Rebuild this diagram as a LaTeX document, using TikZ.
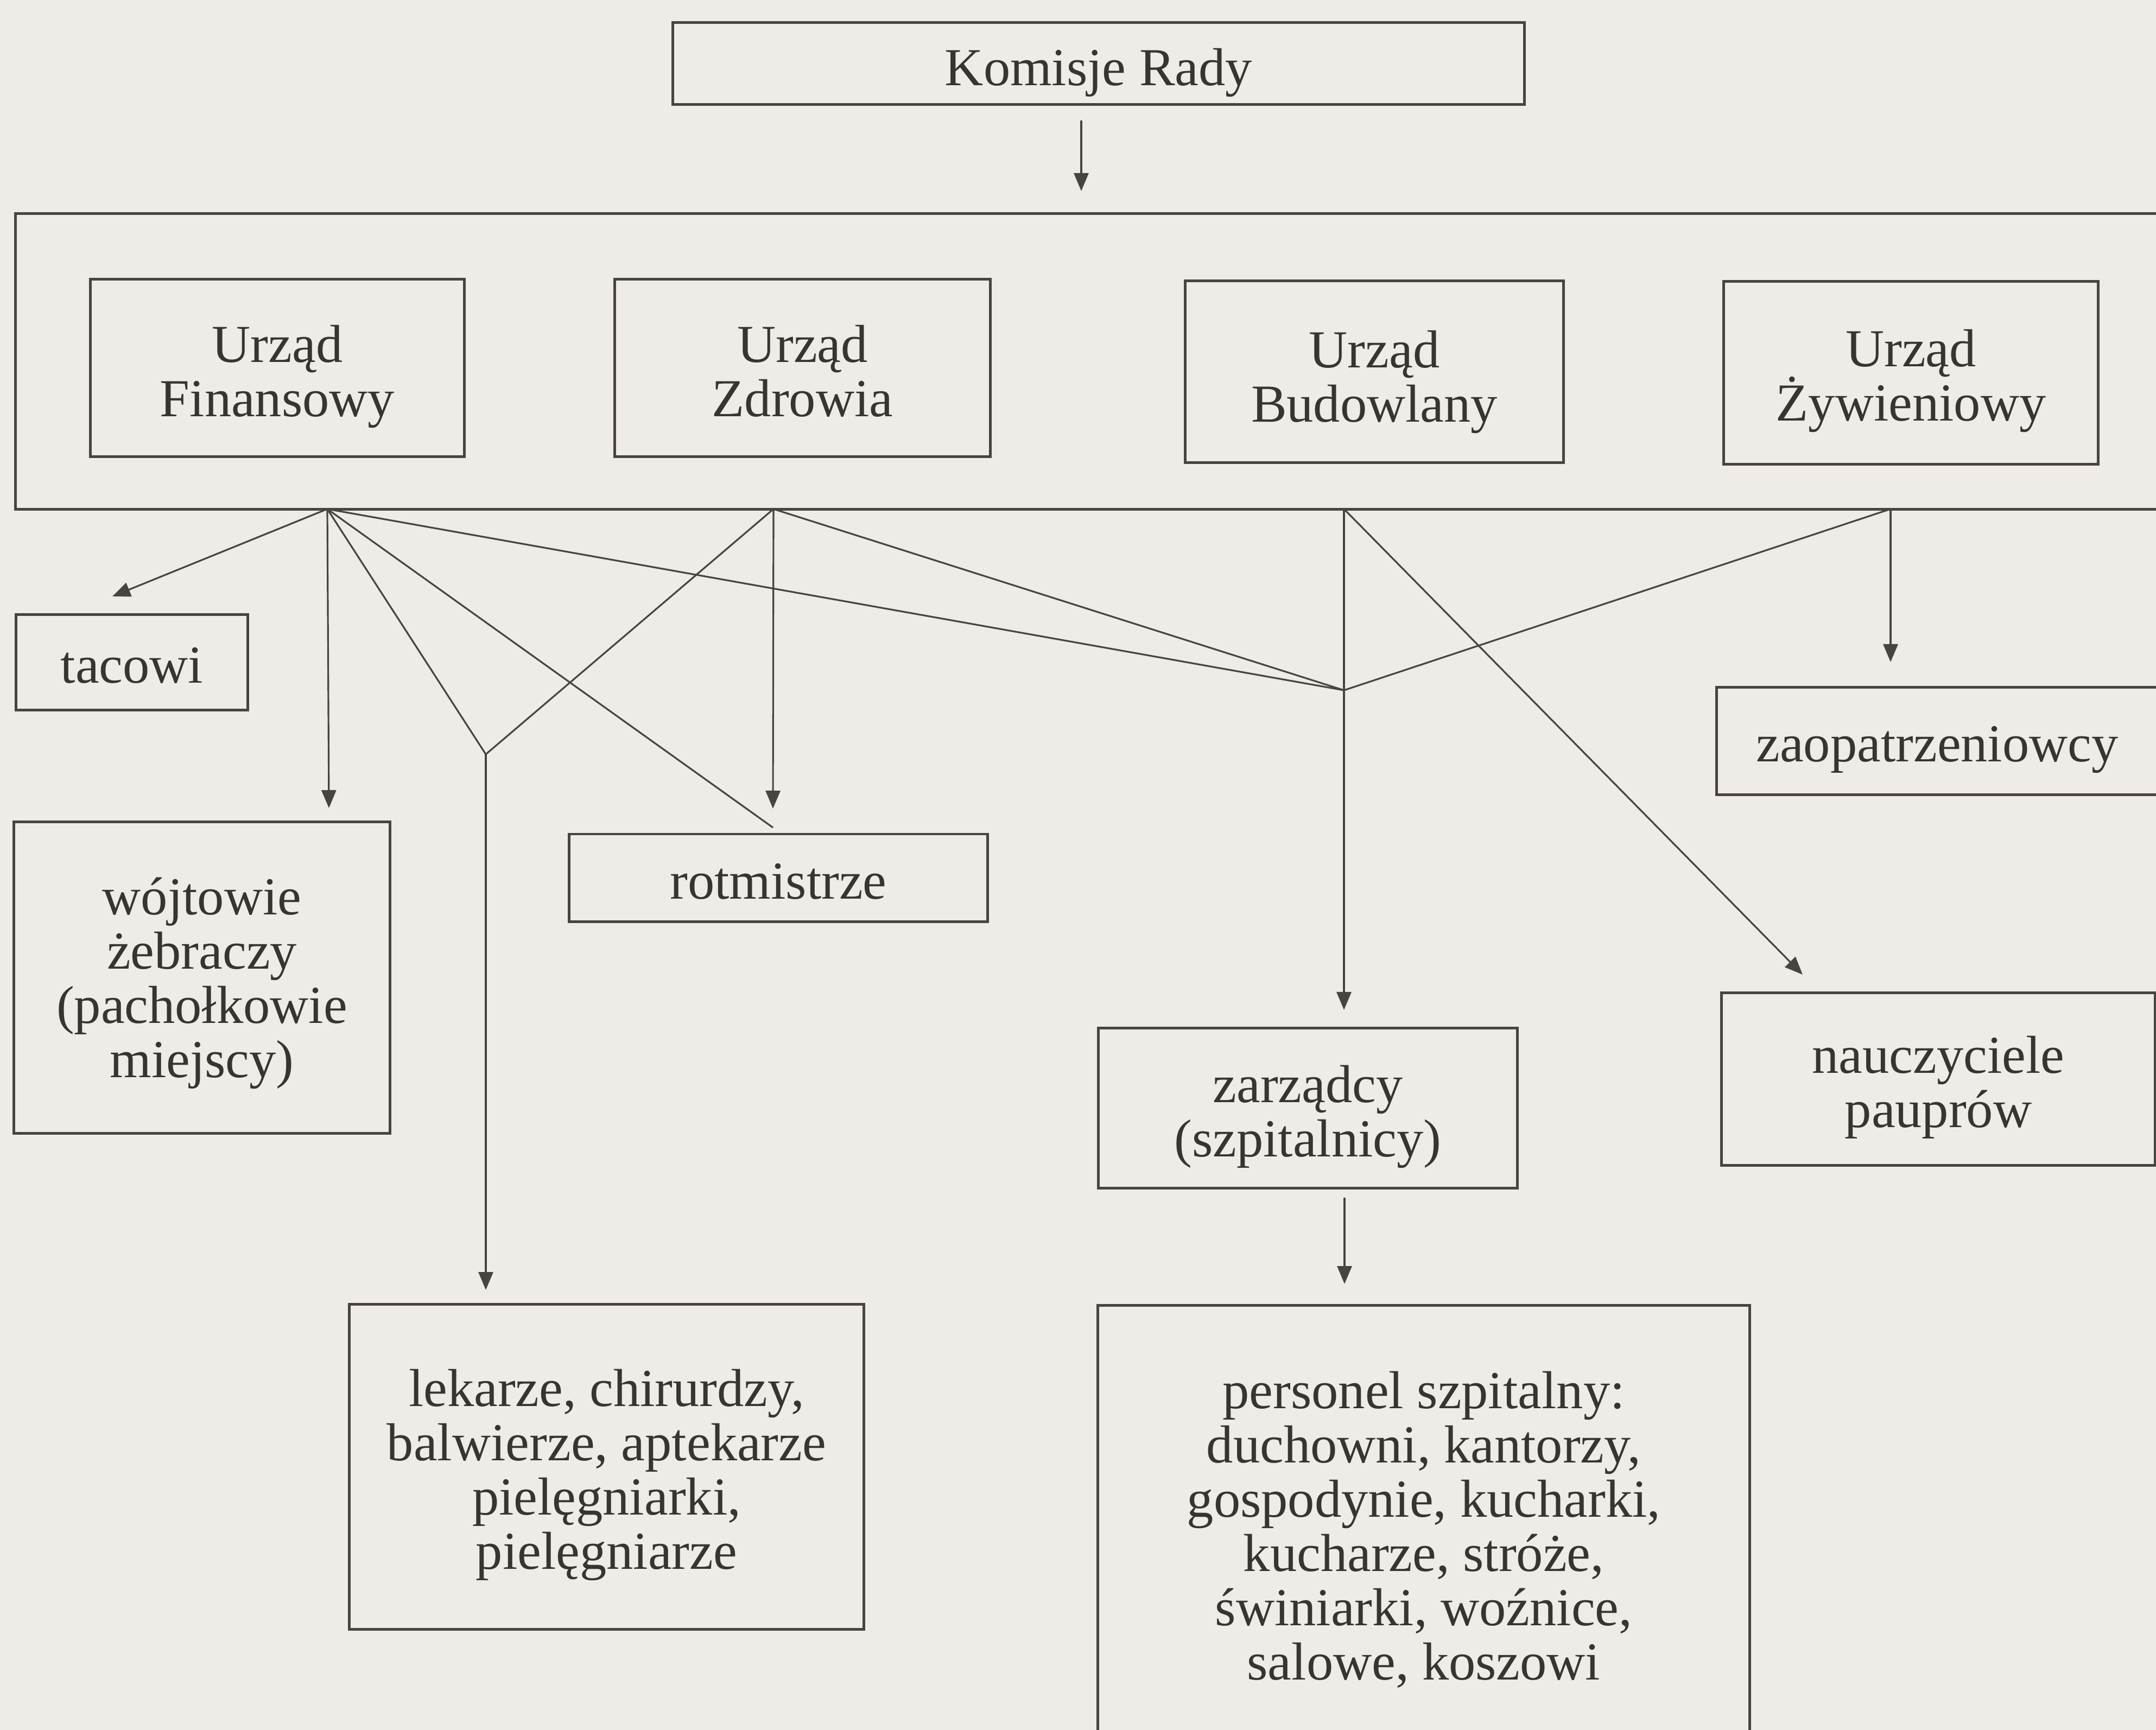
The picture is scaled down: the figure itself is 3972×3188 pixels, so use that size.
\documentclass[tikz,border=0pt]{standalone}
\usepackage{fontspec}
\setmainfont{Liberation Serif}
\usetikzlibrary{arrows.meta}
\definecolor{paper}{RGB}{239,236,231}
\definecolor{ink}{RGB}{72,68,66}
\definecolor{txtc}{RGB}{55,52,50}
\newcommand\diagfont{\fontsize{28}{28.45}\selectfont\lineskiplimit=-100pt\relax}
\begin{document}
\begin{tikzpicture}[x=0.01cm,y=-0.01cm,
  box/.style={draw=ink, line width=1.4pt, inner sep=0pt},
  lbl/.style={align=center, inner sep=0pt, text=txtc, font=\diagfont},
  ln/.style={draw=ink, line width=0.9pt},
  arr/.style={ln, -{Triangle[length=0.33cm,width=0.27cm]}}]
\useasboundingbox (0,0) rectangle (3972,3188);
\fill[paper] (0,0) rectangle (3972,3188);

% boxes
\node[box, minimum width=15.68cm, minimum height=1.50cm] (K) at (2024,117) {};
\node[box, minimum width=39.80cm, minimum height=5.44cm] (main) at (2020,666) {};
\node[box, minimum width=6.88cm, minimum height=3.26cm] (F) at (511,678) {};
\node[box, minimum width=6.91cm, minimum height=3.26cm] (Z) at (1478.5,678) {};
\node[box, minimum width=6.96cm, minimum height=3.34cm] (B) at (2532,685) {};
\node[box, minimum width=6.89cm, minimum height=3.36cm] (Zy) at (3520.5,687) {};
\node[box, minimum width=4.26cm, minimum height=1.75cm] (tac) at (243,1220.5) {};
\node[box, minimum width=6.92cm, minimum height=5.73cm] (woj) at (372,1801.5) {};
\node[box, minimum width=7.70cm, minimum height=1.61cm] (rot) at (1434,1617.5) {};
\node[box, minimum width=8.22cm, minimum height=1.97cm] (zao) at (3574,1365.5) {};
\node[box, minimum width=7.71cm, minimum height=2.94cm] (zar) at (2409.5,2042) {};
\node[box, minimum width=7.98cm, minimum height=3.17cm] (nau) at (3571,1988.5) {};
\node[box, minimum width=9.47cm, minimum height=5.98cm] (lek) at (1117.5,2703) {};
\node[box, minimum width=12.00cm, minimum height=8.34cm] (per) at (2623,2823) {};

% texts
\node[lbl, yshift=-0.17cm] (Kt) at (K) {Komisje Rady};
\node[lbl, yshift=-0.16cm] (Ft) at (F) {Urząd\\Finansowy};
\node[lbl, yshift=-0.055cm] (Zt) at (Z) {Urząd\\Zdrowia};
\node[lbl, yshift=-0.19cm] (Bt) at (B) {Urząd\\Budowlany};
\node[lbl, yshift=-0.15cm] (Zyt) at (Zy) {Urząd\\Żywieniowy};
\node[lbl, yshift=-0.06cm] (tact) at (tac) {tacowi};
\node[lbl, yshift=-0.10cm] (wojt) at (woj) {wójtowie\\żebraczy\\(pachołkowie\\miejscy)};
\node[lbl, yshift=-0.07cm] (rott) at (rot) {rotmistrze};
\node[lbl, yshift=-0.16cm, xshift=-0.05cm] (zaot) at (zao) {zaopatrzeniowcy};
\node[lbl, yshift=-0.16cm] (zart) at (zar) {zarządcy\\(szpitalnicy)};
\node[lbl, yshift=-0.15cm] (naut) at (nau) {nauczyciele\\pauprów};
\node[lbl, yshift=-0.15cm] (lekt) at (lek) {lekarze, chirurdzy,\\balwierze, aptekarze\\pielęgniarki,\\pielęgniarze};
\node[lbl, yshift=0.04cm] (pert) at (per) {personel szpitalny:\\duchowni, kantorzy,\\gospodynie, kucharki,\\kucharze, stróże,\\świniarki, woźnice,\\salowe, koszowi};

% connector points
\coordinate (ka) at (1992,222);
\coordinate (kb) at (1992,352);
\coordinate (pF) at (603,938);
\coordinate (pZ) at (1425,938);
\coordinate (pB) at (2476,938);
\coordinate (pZy) at (3483,938);
\coordinate (L) at (895,1390);
\coordinate (J) at (2476,1272);
\coordinate (tacT) at (207,1099);
\coordinate (wojT) at (606,1489);
\coordinate (rotT) at (1424,1490);
\coordinate (rotL) at (1424,1525);
\coordinate (lekT) at (895,2377);
\coordinate (zarT) at (2476,1861);
\coordinate (nauT) at (3321,1796);
\coordinate (zaoT) at (3483,1220);
\coordinate (perS) at (2477,2207);
\coordinate (perT) at (2477,2366);

% connectors
\draw[arr] (ka) -- (kb);
\draw[arr] (pF) -- (tacT);
\draw[arr] (pF) -- (wojT);
\draw[ln] (pF) -- (L);
\draw[ln] (pZ) -- (L);
\draw[arr] (L) -- (lekT);
\draw[ln] (pF) -- (rotL);
\draw[arr] (pZ) -- (rotT);
\draw[ln] (pF) -- (J);
\draw[ln] (pZ) -- (J);
\draw[ln] (pZy) -- (J);
\draw[arr] (pB) -- (zarT);
\draw[arr] (pB) -- (nauT);
\draw[arr] (pZy) -- (zaoT);
\draw[arr] (perS) -- (perT);
\end{tikzpicture}
\end{document}
